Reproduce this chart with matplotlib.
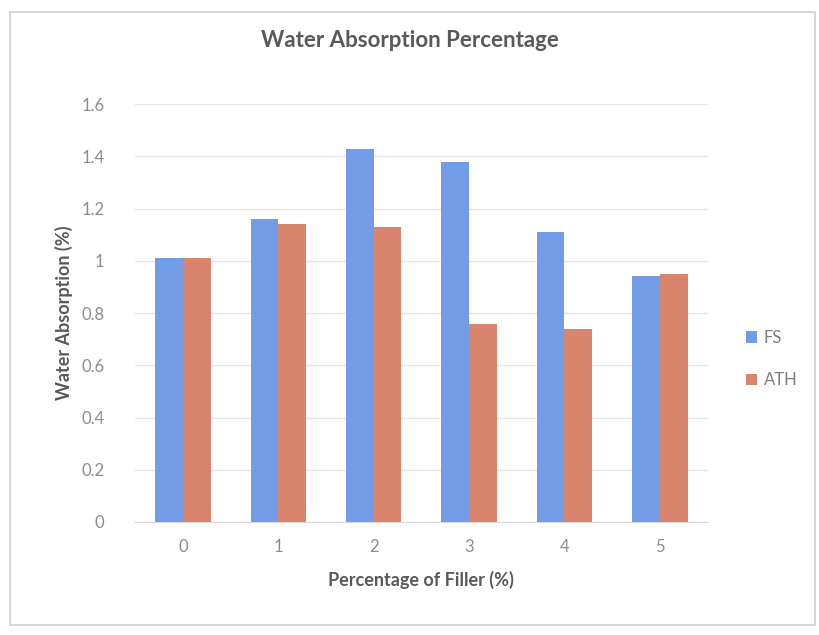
import numpy as np
import matplotlib
matplotlib.use('Agg')
import matplotlib.pyplot as plt
from matplotlib.patches import Rectangle

plt.rcParams['font.family'] = ['Lato', 'DejaVu Sans']

# data
categories = ['0', '1', '2', '3', '4', '5']
fs_values = [1.01, 1.16, 1.43, 1.38, 1.11, 0.94]
ath_values = [1.01, 1.14, 1.13, 0.76, 0.74, 0.95]
series_names = ['FS', 'ATH']
y_ticks = [0, 0.2, 0.4, 0.6, 0.8, 1.0, 1.2, 1.4, 1.6]
y_tick_labels = ['0', '0.2', '0.4', '0.6', '0.8', '1', '1.2', '1.4', '1.6']

fs_color = '#739ce6'
ath_color = '#d9846d'
text_grey = '#8c8c8c'
dark_grey = '#595959'

fig = plt.figure(figsize=(8.19, 6.35), dpi=100)
ax = fig.add_axes([0.165, 0.178, 0.699, 0.658])

# chart frame
fig.patches.append(Rectangle((0.012, 0.015), 0.983, 0.966, transform=fig.transFigure,
                             fill=False, edgecolor='#d0d0d0', linewidth=1.2))

x = np.arange(len(categories))
w = 0.29
ax.bar(x - w / 2, fs_values, width=w, color=fs_color, label=series_names[0], zorder=3)
ax.bar(x + w / 2, ath_values, width=w, color=ath_color, label=series_names[1], zorder=3)

ax.set_xlim(-0.5, len(categories) - 0.5)
ax.set_ylim(0, 1.6)
ax.set_yticks(y_ticks)
ax.set_yticklabels(y_tick_labels)
ax.set_xticks(x)
ax.set_xticklabels(categories)
ax.tick_params(axis='both', length=0, colors=text_grey, labelsize=12)
ax.tick_params(axis='y', pad=22)
ax.tick_params(axis='x', pad=12)
ax.grid(axis='y', color='#e6e6e6', linewidth=1, zorder=0)
for s in ['top', 'right', 'left']:
    ax.spines[s].set_visible(False)
ax.spines['bottom'].set_color('#d9d9d9')

ax.set_ylabel('Water Absorption (%)', fontsize=13, fontweight='bold', color=dark_grey, labelpad=6)
ax.set_xlabel('Percentage of Filler (%)', fontsize=13, fontweight='bold', color=dark_grey, labelpad=12)
fig.text(0.5, 0.937, 'Water Absorption Percentage', ha='center', va='center',
         fontsize=16, fontweight='bold', color=dark_grey)

leg = ax.legend(loc='center left', bbox_to_anchor=(1.04, 0.39), frameon=False,
                fontsize=12, handlelength=0.7, handleheight=0.7, labelspacing=1.6,
                handletextpad=0.4)
for t in leg.get_texts():
    t.set_color('#7f7f7f')

fig.savefig('out.png', dpi=100)
